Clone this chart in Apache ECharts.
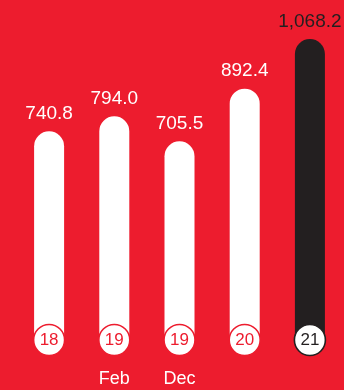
<!DOCTYPE html>
<html>
<head>
<meta charset="utf-8">
<script src="https://cdn.jsdelivr.net/npm/echarts@6/dist/echarts.min.js"></script>
<style>
    html, body {
        margin: 0;
        padding: 0;
        background: #ED1C2E;
    }
    #chart {
        width: 344px;
        height: 390px;
    }
</style>
</head>
<body>
<div id="chart"></div>
<script>
    // values
    const months = ['', 'Feb', 'Dec', '', ''];
    const values = [740.8, 794.0, 705.5, 892.4, 1068.2];
    const years = ['18', '19', '19', '20', '21'];

    const red = '#ED1C2E';
    const dark = '#231F20';
    const last = values.length - 1;

    const fmt = v => v.toLocaleString('en-US', {minimumFractionDigits: 1, maximumFractionDigits: 1});

    let chart = echarts.init(document.getElementById('chart'));
    chart.setOption({
        backgroundColor: red,
        animation: false,
        textStyle: {fontFamily: 'Liberation Sans, Arial, sans-serif'},
        grid: {left: 16.5, right: 1.5, top: 2, bottom: 50},
        xAxis: {
            type: 'category',
            data: months,
            axisLine: {show: false},
            axisTick: {show: false},
            axisLabel: {color: '#fff', fontSize: 18, margin: 30}
        },
        yAxis: {
            type: 'value',
            min: 0,
            max: 1200,
            show: false
        },
        series: [{
            type: 'bar',
            barWidth: 30,
            data: values.map((v, i) => ({
                value: v,
                itemStyle: {color: i === last ? dark : '#fff'},
                label: {color: i === last ? dark : '#fff'}
            })),
            itemStyle: {borderRadius: [15, 15, 0, 0]},
            label: {
                show: true,
                position: 'top',
                distance: 8,
                fontSize: 19,
                formatter: p => fmt(p.value)
            }
        }, {
            type: 'scatter',
            clip: false,
            z: 5,
            symbolSize: 31,
            data: years.map((y, i) => ({
                value: [i, 0],
                name: y,
                itemStyle: {color: '#fff', opacity: 1, borderColor: i === last ? dark : red, borderWidth: 1.6},
                label: {color: i === last ? dark : red}
            })),
            label: {
                show: true,
                position: 'inside',
                fontSize: 17,
                formatter: p => p.name
            }
        }]
    });
</script>
</body>
</html>
